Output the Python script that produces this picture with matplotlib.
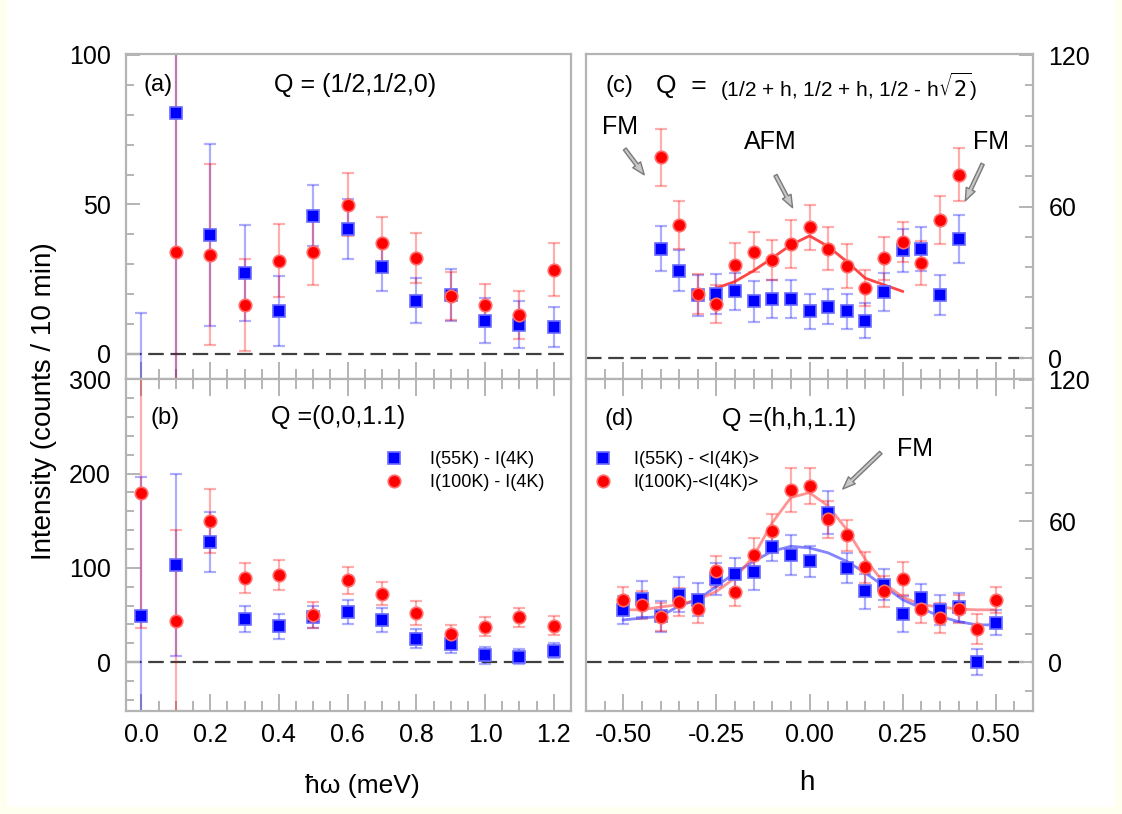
import numpy as np
import matplotlib
matplotlib.use('Agg')
import matplotlib.pyplot as plt
from matplotlib.ticker import MultipleLocator, FixedLocator
from matplotlib.patches import Rectangle

plt.rcParams['font.family'] = ['Liberation Sans', 'DejaVu Sans']

# (a) Q = (1/2,1/2,0), energy scans
x_e = [0.0, 0.1, 0.2, 0.3, 0.4, 0.5, 0.6, 0.7, 0.8, 0.9, 1.0, 1.1, 1.2]
a55 = [-15, 80.5, 39.9, 27.0, 14.3, 46.3, 41.8, 29.0, 17.8, 19.8, 11.1, 9.8, 9.0]
a55_err = [28.7, 95, 30.4, 16, 11.8, 10.3, 10, 8, 7.5, 8.7, 7.5, 7.9, 6.8]
a100 = [np.nan, 34.1, 33.2, 16.3, 31.2, 34.1, 49.9, 37.1, 32.1, 19.3, 16.3, 13.1, 28.2]
a100_err = [np.nan, 70, 30.3, 15.4, 12.3, 11, 10.6, 8.6, 8.5, 8, 7, 8, 8.8]

# (b) Q = (0,0,1.1)
b55 = [49.3, 103, 127.7, 45.7, 37.8, 48, 52.9, 44.6, 24.8, 18.7, 7.2, 5.4, 12.2]
b55_err = [147.5, 97, 32, 14, 13, 12, 12.5, 12.5, 10, 9, 9, 8, 8]
b100 = [179.5, 43.9, 150, 89.6, 92.4, 50, 86.7, 72.7, 51.8, 30.2, 37.4, 47.5, 38.5]
b100_err = [143, 96, 34, 16, 15.5, 13.5, 14, 12.5, 13, 9.5, 10, 10, 10]

# (c) Q = (1/2+h, 1/2+h, 1/2-h*sqrt2)
h_c = [-0.4, -0.35, -0.3, -0.25, -0.2, -0.15, -0.1, -0.05, 0.0, 0.05, 0.1,
       0.15, 0.2, 0.25, 0.3, 0.35, 0.4]
c55 = [43.3, 34.6, 24.8, 25.3, 26.4, 22.4, 23.3, 23.3, 18.5, 20.4, 18.5,
       14.8, 26.1, 42.6, 43.1, 24.8, 47.2]
c55_err = [8.8, 8.1, 8, 8, 7.3, 8, 7.5, 7.5, 7, 7, 7, 7, 7.5, 8.5, 8.8, 7.9, 9.6]
c100 = [79.5, 52.7, 25.4, 21.4, 36.7, 41.9, 38.9, 45.1, 51.7, 43.3, 36.5,
        27.7, 39.6, 45.9, 37.6, 54.7, 72.5]
c100_err = [11.2, 9.4, 8, 7.4, 8.8, 8, 8, 9.5, 9, 8.5, 8.8, 7, 8.5, 8, 8.6, 9.4, 10.5]
h_cfit = [-0.25, -0.2, -0.15, -0.1, -0.05, 0.0, 0.05, 0.1, 0.15, 0.2, 0.25]
c_fit = [27.7, 30.3, 34.6, 39.6, 44.8, 48.4, 44.2, 38.2, 31.6, 29.0, 26.4]

# (d) Q = (h,h,1.1)
h_d = [-0.5, -0.45, -0.4, -0.35, -0.3, -0.25, -0.2, -0.15, -0.1, -0.05, 0.0,
       0.05, 0.1, 0.15, 0.2, 0.25, 0.3, 0.35, 0.4, 0.45, 0.5]
d55 = [22.3, 26.9, 19.5, 28.7, 26.6, 35.4, 37.7, 38.4, 49.1, 45.4, 42.9,
       63.6, 40.1, 30.1, 33.0, 20.5, 27.3, 22.3, 23.3, 0.0, 16.9]
d55_err = [6, 7.5, 6.5, 7.5, 7, 7, 6.5, 7.5, 6, 8.5, 6.5, 9, 6.5, 7.5, 6.5,
           7.5, 6, 6.5, 6, 5.5, 5.5]
d100 = [26.6, 24.5, 19.2, 25.6, 22.6, 38.7, 29.9, 45.8, 56.0, 73.2, 74.9,
        60.7, 54.0, 40.4, 30.1, 35.5, 22.6, 18.8, 22.6, 14.2, 26.6]
d100_err = [5.5, 6, 6, 6, 6, 6.5, 6, 7, 7, 9.5, 7.5, 8, 6.5, 6.5, 6.5, 7, 6,
            6.5, 6, 6.5, 5.5]
d55_fit = [18.0, 18.8, 19.5, 24.0, 26.6, 32.3, 38.0, 42.9, 47.2, 49.3, 48.6,
           46.5, 42.9, 38.0, 32.3, 26.6, 23.0, 19.5, 17.3, 15.9, 15.9]
d100_fit = [22.3, 22.3, 23.5, 24.5, 26.6, 30.1, 35.8, 45.1, 59.3, 70.0, 72.1,
            66.4, 56.4, 43.7, 33.7, 27.7, 24.5, 23.5, 22.6, 22.3, 22.3]

BLUE = '#0000ff'
RED = '#ff0000'
GRID = '#b4b4b4'
FS = 18

fig = plt.figure(figsize=(11.22, 8.14), dpi=100, facecolor='#fffff0')
fig.patches.append(Rectangle((7 / 1122, 7 / 814), 1108 / 1122, 1, transform=fig.transFigure,
                             facecolor='white', edgecolor='none', zorder=-10))

L1, W1 = 126 / 1122, 445 / 1122
L2, W2 = 586 / 1122, 447 / 1122
top, mid, bot = 1 - 54 / 814, 1 - 378.5 / 814, 1 - 711 / 814
ax_a = fig.add_axes([L1, mid, W1, top - mid])
ax_b = fig.add_axes([L1, bot, W1, mid - bot])
ax_c = fig.add_axes([L2, mid, W2, top - mid])
ax_d = fig.add_axes([L2, bot, W2, mid - bot])


def style(ax, right=False, upper=False):
    for s in ax.spines.values():
        s.set_color(GRID)
        s.set_linewidth(1.6)
    ax.tick_params(which='both', direction='in', color=GRID, width=1.4,
                   labelsize=FS, top=not upper, bottom=True,
                   left=not right, right=right,
                   labelleft=not right, labelright=right,
                   labelbottom=not upper)
    ax.tick_params(axis='x', which='major', length=12, pad=9)
    ax.tick_params(axis='x', which='minor', length=7)
    ax.tick_params(axis='y', which='major', length=10, pad=11)
    ax.tick_params(axis='y', which='minor', length=6)
    ax.axhline(0, color='#404040', lw=1.6, dashes=(7, 3), zorder=1)


def draw(ax, x, yb, eb, yr, er):
    ax.errorbar(x, yb, yerr=eb, fmt='none', ecolor=(0, 0, 1, 0.32),
                elinewidth=1.6, capsize=4.5, capthick=1.6, zorder=2)
    ax.errorbar(x, yr, yerr=er, fmt='none', ecolor=(1, 0, 0, 0.32),
                elinewidth=1.6, capsize=4.5, capthick=1.6, zorder=2)
    hb, = ax.plot(x, yb, 's', ms=8, mfc=BLUE, mec='#6a6aff', mew=1.2, zorder=4)
    hr, = ax.plot(x, yr, 'o', ms=9, mfc=RED, mec='#ff6a6a', mew=1.2, zorder=5)
    return hb, hr


for ax in (ax_a, ax_b):
    ax.set_xlim(-0.045, 1.25)
    ax.xaxis.set_major_locator(MultipleLocator(0.2))
    ax.xaxis.set_minor_locator(MultipleLocator(0.05))
    ax.xaxis.set_major_formatter(matplotlib.ticker.FormatStrFormatter('%.1f'))
for ax in (ax_c, ax_d):
    ax.set_xlim(-0.6, 0.6)
    ax.xaxis.set_major_locator(FixedLocator([-0.5, -0.25, 0, 0.25, 0.5]))
    ax.xaxis.set_minor_locator(MultipleLocator(0.05))
    ax.xaxis.set_major_formatter(matplotlib.ticker.FormatStrFormatter('%.2f'))

style(ax_a, upper=True)
style(ax_b)
style(ax_c, right=True, upper=True)
style(ax_d, right=True)

ax_a.set_ylim(-8.2, 100.3)
ax_a.yaxis.set_major_locator(FixedLocator([0, 50, 100]))
ax_a.yaxis.set_minor_locator(MultipleLocator(10))
ax_b.set_ylim(-52, 301)
ax_b.yaxis.set_major_locator(FixedLocator([0, 100, 200, 300]))
ax_b.yaxis.set_minor_locator(MultipleLocator(20))
ax_c.set_ylim(-8.1, 120.4)
ax_d.set_ylim(-20.7, 120.6)
for ax in (ax_c, ax_d):
    ax.yaxis.set_major_locator(FixedLocator([0, 60, 120]))
    ax.yaxis.set_minor_locator(MultipleLocator(12))

draw(ax_a, x_e, a55, a55_err, a100, a100_err)
hb, hr = draw(ax_b, x_e, b55, b55_err, b100, b100_err)
draw(ax_c, h_c, c55, c55_err, c100, c100_err)
ax_c.plot(h_cfit, c_fit, color=(1, 0.15, 0.15, 0.85), lw=2, zorder=3)
ax_d.plot(h_d, d55_fit, color=(0.2, 0.2, 1, 0.6), lw=2, zorder=3)
ax_d.plot(h_d, d100_fit, color=(1, 0.3, 0.3, 0.6), lw=2, zorder=3)
hbd, hrd = draw(ax_d, h_d, d55, d55_err, d100, d100_err)

# panel labels and Q
ax_a.text(0.073, 0.904, '(a)', transform=ax_a.transAxes, fontsize=17, ha='center', va='center')
ax_a.text(0.515, 0.904, 'Q = (1/2,1/2,0)', transform=ax_a.transAxes, fontsize=18, ha='center', va='center')
ax_b.text(0.087, 0.88, '(b)', transform=ax_b.transAxes, fontsize=17, ha='center', va='center')
ax_b.text(0.477, 0.885, 'Q =(0,0,1.1)', transform=ax_b.transAxes, fontsize=18, ha='center', va='center')
ax_c.text(0.075, 0.90, '(c)', transform=ax_c.transAxes, fontsize=17, ha='center', va='center')
ax_c.text(0.157, 0.90, 'Q  =', transform=ax_c.transAxes, fontsize=19, ha='left', va='center')
ax_c.text(0.30, 0.90, r'(1/2 + h, 1/2 + h, 1/2 - h$\sqrt{2}$)', transform=ax_c.transAxes,
          fontsize=15, ha='left', va='center')
ax_d.text(0.075, 0.879, '(d)', transform=ax_d.transAxes, fontsize=17, ha='center', va='center')
ax_d.text(0.454, 0.879, 'Q =(h,h,1.1)', transform=ax_d.transAxes, fontsize=18, ha='center', va='center')

arrow = dict(arrowstyle='simple,head_width=0.7,head_length=0.9,tail_width=0.25',
             fc='#c8c8c8', ec='#7a7a7a', lw=1)
ax_c.text(0.077, 0.776, 'FM', transform=ax_c.transAxes, fontsize=18, ha='center', va='center')
ax_c.annotate('', xy=(0.134, 0.621), xytext=(0.083, 0.714), xycoords='axes fraction',
              textcoords='axes fraction', arrowprops=arrow)
ax_c.text(0.413, 0.73, 'AFM', transform=ax_c.transAxes, fontsize=18, ha='center', va='center')
ax_c.annotate('', xy=(0.465, 0.519), xytext=(0.421, 0.634), xycoords='axes fraction',
              textcoords='axes fraction', arrowprops=arrow)
ax_c.text(0.907, 0.73, 'FM', transform=ax_c.transAxes, fontsize=18, ha='center', va='center')
ax_c.annotate('', xy=(0.846, 0.54), xytext=(0.89, 0.669), xycoords='axes fraction',
              textcoords='axes fraction', arrowprops=arrow)
ax_d.text(0.737, 0.789, 'FM', transform=ax_d.transAxes, fontsize=18, ha='center', va='center')
ax_d.annotate('', xy=(0.570, 0.662), xytext=(0.664, 0.783), xycoords='axes fraction',
              textcoords='axes fraction', arrowprops=arrow)

# legends
ax_b.legend([hb, hr], ['I(55K) - I(4K)', 'I(100K) - I(4K)'], loc='upper left',
            bbox_to_anchor=(0.582, 0.782), frameon=False, fontsize=13, numpoints=1,
            handlelength=1.0, handletextpad=1.5, labelspacing=0.35,
            borderpad=0, borderaxespad=0)
ax_d.legend([hbd, hrd], ['I(55K) - <I(4K)>', 'I(100K)-<I(4K)>'], loc='upper left',
            bbox_to_anchor=(0.018, 0.782), frameon=False, fontsize=13, numpoints=1,
            handlelength=1.0, handletextpad=1.2, labelspacing=0.35,
            borderpad=0, borderaxespad=0)

fig.text(44 / 1122, 1 - 401 / 814, 'Intensity (counts / 10 min)', rotation=90,
         fontsize=20, ha='center', va='center')
fig.text(362 / 1122, 1 - 786 / 814, 'ħω (meV)', fontsize=19, ha='center', va='center')
fig.text(807 / 1122, 1 - 783 / 814, 'h', fontsize=20, ha='center', va='center')

fig.savefig('out.png', dpi=100, facecolor=fig.get_facecolor())
